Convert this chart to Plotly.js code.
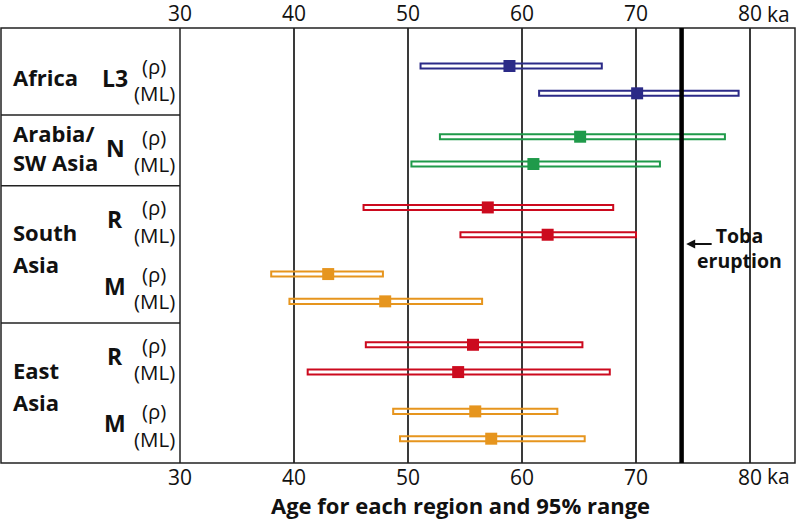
<!DOCTYPE html>
<html>
<head>
<meta charset="utf-8">
<script src="https://cdn.plot.ly/plotly-3.0.1.min.js"></script>
<style>html,body{margin:0;padding:0;background:#fff;}#chart{width:799px;height:520px;}</style>
</head>
<body>
<div id="chart"></div>
<script>
// ---- data ----
const groupRegion = ['Africa', 'Arabia/SW Asia', 'South Asia', 'South Asia', 'East Asia', 'East Asia'];
const regionIndex = [0, 1, 2, 2, 3, 3];
const haplogroups = ['L3', 'N', 'R', 'M', 'R', 'M'];
const methods = ['(ρ)', '(ML)'];
const rhoAge  = [58.9, 65.1, 57.0, 43.0, 55.7, 55.9];
const rhoLow  = [51.1, 52.8, 46.1, 38.0, 46.3, 48.7];
const rhoHigh = [67.0, 77.8, 68.0, 47.8, 65.3, 63.1];
const mlAge   = [70.1, 61.0, 62.25, 48.0, 54.4, 57.3];
const mlLow   = [61.5, 50.3, 54.6, 39.6, 41.2, 49.3];
const mlHigh  = [79.0, 72.1, 70.0, 56.5, 67.7, 65.5];
const groupColors = ['#2b2a87', '#1f9a4a', '#cc0a1e', '#e6951e', '#cc0a1e', '#e6951e'];
const tobaAge = 74;
const tickVals = [30, 40, 50, 60, 70, 80];
const tickText = ['30', '40', '50', '60', '70', '80'];
const xTitle = 'Age for each region and 95% range';
const unitLabel = 'ka';

// ---- layout helpers ----
const FONT = 'Open Sans, Noto Sans, sans-serif';
const W = 799, H = 520;
const M = {l: 1, r: 4, t: 28, b: 57};
const PW = W - M.l - M.r;
const plotH = H - M.t - M.b;
const leftPanelPx = 180;
const domStart = (leftPanelPx - M.l) / PW;
const pxX = px => (px - M.l) / PW;
const pxY = py => (H - M.b - py) / plotH;
const PAIR_STEP = 2.44, REGION_GAP = 0.15;
const pairPos = regionIndex.map((r, k) => k * PAIR_STEP + r * REGION_GAP);

// rows
const rowY = [], rowLow = [], rowHigh = [], rowAge = [], rowColor = [];
pairPos.forEach((p, k) => {
  rowY.push(p, p + 1);
  rowLow.push(rhoLow[k], mlLow[k]);
  rowHigh.push(rhoHigh[k], mlHigh[k]);
  rowAge.push(rhoAge[k], mlAge[k]);
  rowColor.push(groupColors[k], groupColors[k]);
});

const traces = [
  {
    type: 'bar', orientation: 'h',
    y: rowY, base: rowLow, x: rowHigh.map((h, i) => h - rowLow[i]),
    width: 0.185,
    marker: {color: 'rgba(255,255,255,0)', line: {color: rowColor, width: 2}},
    hoverinfo: 'skip', showlegend: false, xaxis: 'x', yaxis: 'y'
  },
  {
    type: 'scatter', mode: 'markers',
    y: rowY, x: rowAge,
    marker: {symbol: 'square', size: 12, color: rowColor, line: {width: 0}},
    hoverinfo: 'skip', showlegend: false, xaxis: 'x2', yaxis: 'y'
  }
];

const shapes = [];
shapes.push({type: 'rect', xref: 'paper', yref: 'paper', x0: 0, x1: 1, y0: 0, y1: 1,
  line: {color: '#222', width: 1.5}, layer: 'above'});
shapes.push({type: 'line', xref: 'paper', yref: 'paper', x0: domStart, x1: domStart, y0: 0, y1: 1,
  line: {color: '#222', width: 1.5}, layer: 'above'});
for (let k = 0; k < pairPos.length - 1; k++) {
  if (regionIndex[k] !== regionIndex[k + 1]) {
    const yy = (pairPos[k] + 1 + pairPos[k + 1]) / 2;
    shapes.push({type: 'line', xref: 'paper', yref: 'y', x0: 0, x1: domStart, y0: yy, y1: yy,
      line: {color: '#222', width: 1.5}, layer: 'above'});
  }
}
shapes.push({type: 'line', xref: 'x', yref: 'paper', x0: tobaAge, x1: tobaAge, y0: 0, y1: 1,
  line: {color: '#000', width: 4.5}, layer: 'above'});

const annotations = [];
const boldFont = s => ({family: FONT, size: s, color: '#111', weight: 'bold'});
const regFont = s => ({family: FONT, size: s, color: '#111'});

// region labels
const regionsDone = {};
groupRegion.forEach((name, k) => {
  if (regionsDone[name]) return;
  regionsDone[name] = true;
  const ys = [];
  groupRegion.forEach((n, j) => { if (n === name) ys.push(pairPos[j], pairPos[j] + 1); });
  const yc = ys.reduce((a, b) => a + b, 0) / ys.length;
  const lines = name === 'Arabia/SW Asia' ? ['Arabia/', 'SW Asia'] :
                name.indexOf(' ') > 0 ? name.split(' ') : [name];
  const shiftBase = ys.length > 2 ? 6 : 3;
  lines.forEach((ln, i) => {
    const off = (lines.length - 1) / 2 - i;
    annotations.push({xref: 'paper', yref: 'y', x: pxX(11), y: yc, xanchor: 'left', yanchor: 'middle',
      yshift: off * (lines.length > 1 ? (ys.length > 2 ? 32 : 29) : 0) + shiftBase,
      text: ln, showarrow: false, font: boldFont(22)});
  });
});
// haplogroup + method labels
haplogroups.forEach((h, k) => {
  annotations.push({xref: 'paper', yref: 'y', x: pxX(115), y: pairPos[k] + 0.5, xanchor: 'center', yanchor: 'middle',
    yshift: 2, text: h, showarrow: false, font: boldFont(23)});
  methods.forEach((m, j) => {
    annotations.push({xref: 'paper', yref: 'y', x: pxX(154), y: pairPos[k] + j, xanchor: 'center', yanchor: 'middle',
      text: m, showarrow: false, font: regFont(20.5)});
  });
});
// ka unit labels (beside the 80 tick labels)
[[1, 14], [0, -13]].forEach(([yy, sh]) => {
  annotations.push({xref: 'x', yref: 'paper', x: tickVals[tickVals.length - 1], y: yy, xanchor: 'left',
    yanchor: 'middle', xshift: 15, yshift: sh,
    text: unitLabel, showarrow: false, font: regFont(21)});
});
// Toba arrow and text
annotations.push({xref: 'x', yref: 'paper', x: tobaAge + 0.4, y: pxY(244),
  ax: 27, ay: 0, text: '', showarrow: true, arrowhead: 2, arrowsize: 1, arrowwidth: 1.8, arrowcolor: '#111'});
annotations.push({xref: 'paper', yref: 'paper', x: pxX(739), y: pxY(248),
  xanchor: 'center', yanchor: 'middle', text: 'Toba<br>eruption', showarrow: false, font: boldFont(19.5)});
// x title
annotations.push({xref: 'paper', yref: 'paper', x: pxX(460), y: pxY(505),
  xanchor: 'center', yanchor: 'middle', text: xTitle, showarrow: false, font: boldFont(22)});

const xRange = [30, 30 + (W - M.r - leftPanelPx) / 11.4];
const layout = {
  width: W, height: H, margin: M,
  paper_bgcolor: '#fff', plot_bgcolor: '#fff',
  font: {family: FONT, color: '#111'},
  barmode: 'overlay', showlegend: false,
  xaxis: {domain: [domStart, 1], range: xRange, tickvals: tickVals, ticktext: tickText,
    showgrid: true, gridcolor: '#3a3a3a', gridwidth: 1.2, zeroline: false, showline: false,
    ticks: '', tickfont: regFont(21), fixedrange: true},
  xaxis2: {overlaying: 'x', matches: 'x', side: 'top', anchor: 'y', tickvals: tickVals, ticktext: tickText,
    showgrid: false, zeroline: false, showline: false, ticks: '', tickfont: regFont(21), ticklabelstandoff: 2},
  yaxis: {range: [14.54, -1.392], showgrid: false, zeroline: false, showticklabels: false, ticks: '', showline: false},
  shapes: shapes, annotations: annotations
};
Plotly.newPlot('chart', traces, layout, {staticPlot: true, displayModeBar: false});
</script>
</body>
</html>
